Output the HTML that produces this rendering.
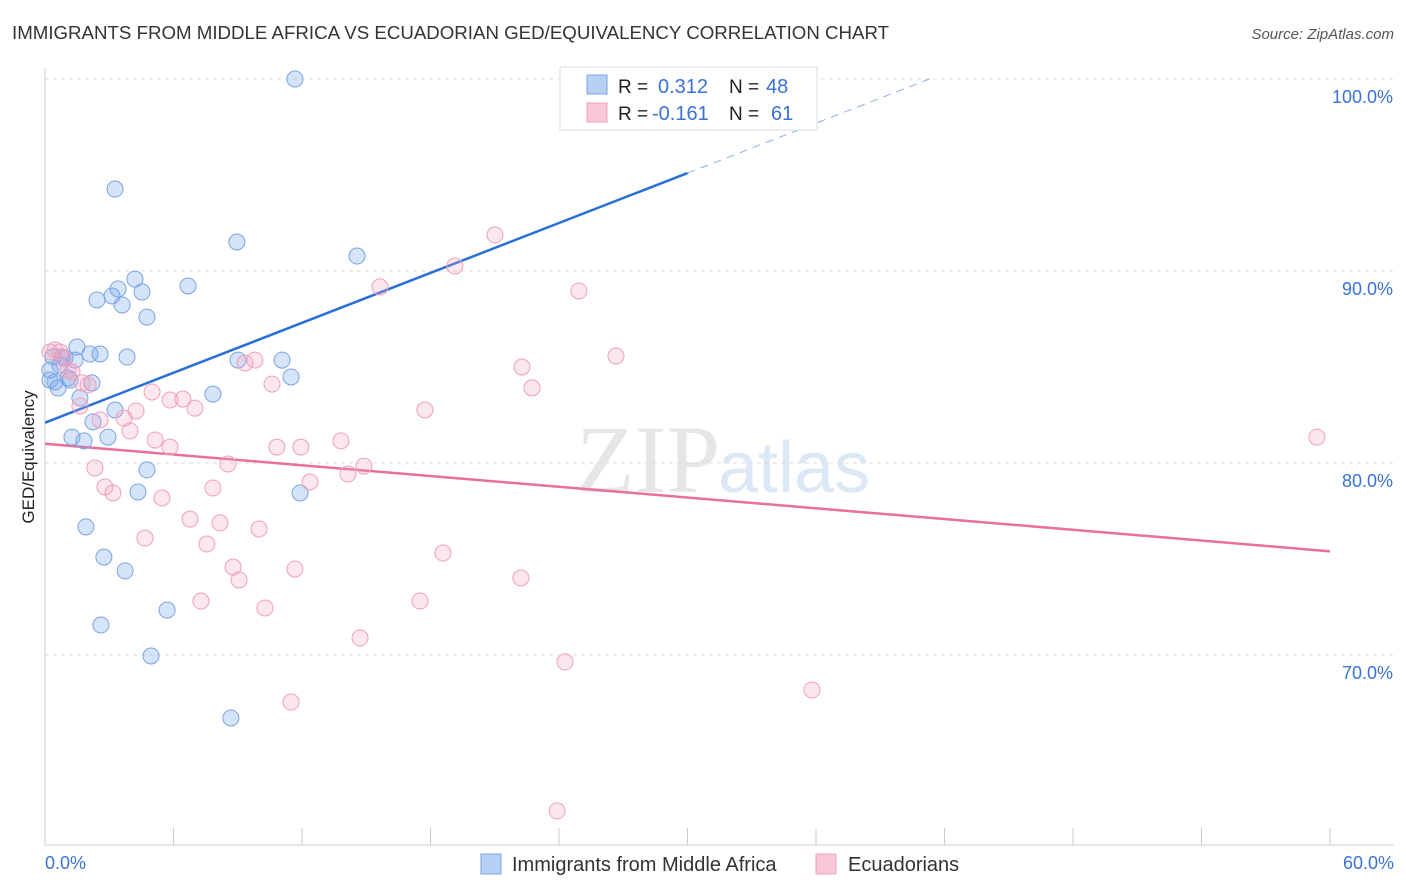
<!DOCTYPE html>
<html><head><meta charset="utf-8">
<style>
body{margin:0;background:#fff;font-family:"Liberation Sans",sans-serif;}
svg{display:block}
</style></head>
<body>
<svg id="chart" width="1406" height="892" xmlns="http://www.w3.org/2000/svg">
<text x="12" y="39" font-size="18.7" fill="#333">IMMIGRANTS FROM MIDDLE AFRICA VS ECUADORIAN GED/EQUIVALENCY CORRELATION CHART</text>
<text x="1394" y="39" font-size="15" fill="#555" font-style="italic" text-anchor="end">Source: ZipAtlas.com</text>
<text x="720" y="492" font-size="96" fill="#e6e6e6" text-anchor="end" font-family="Liberation Serif">ZIP</text>
<text x="718" y="492" font-size="72" fill="#dce8f5">atlas</text>
<text transform="translate(34,457) rotate(-90)" font-size="17" fill="#222" text-anchor="middle">GED/Equivalency</text>
<g id="grid"></g><g id="axes"></g><g id="lines"></g><g id="pts"></g>
<g>
<rect x="560" y="67" width="257" height="63" fill="#fff" stroke="#ddd"/>
<rect x="587" y="75" width="20" height="19" fill="#b7d0f4" stroke="#7aa3e5"/>
<rect x="587" y="103" width="20" height="19" fill="#f9c8d6" stroke="#f0a0b8"/>
<text x="618" y="93" font-size="19" fill="#222">R = </text><text x="658" y="93" font-size="20" fill="#3a72d8">0.312</text>
<text x="729" y="93" font-size="19" fill="#222">N = </text><text x="766" y="93" font-size="20" fill="#3a72d8">48</text>
<text x="618" y="120" font-size="19" fill="#222">R = </text><text x="652" y="120" font-size="20" fill="#3a72d8">-0.161</text>
<text x="729" y="120" font-size="19" fill="#222">N = </text><text x="771" y="120" font-size="20" fill="#3a72d8">61</text>
</g>
<g>
<rect x="481" y="854" width="20" height="20" fill="#b7d0f4" stroke="#7aa3e5"/>
<text x="512" y="871" font-size="20" fill="#333">Immigrants from Middle Africa</text>
<rect x="816" y="854" width="20" height="20" fill="#f9c8d6" stroke="#f0a0b8"/>
<text x="848" y="871" font-size="20" fill="#333">Ecuadorians</text>
</g>
</svg>
<script>
const xTicks=[0,6,12,18,24,30,36,42,48,54,60];
const yTicks=[70,80,90,100];
const blueX=[11.67,3.27,8.96,14.57,4.20,6.68,3.41,4.53,3.13,2.43,3.60,4.76,1.49,2.57,3.83,0.37,0.79,2.10,1.40,9.01,11.07,0.23,1.07,2.19,0.61,11.49,7.84,1.63,3.27,2.24,1.26,1.82,2.94,4.76,4.34,11.91,1.91,2.75,3.74,5.70,2.61,4.95,8.68,0.70,0.47,0.93,0.23,1.17];
const blueY=[100,94.27,91.51,90.78,89.58,89.22,89.06,88.91,88.70,88.49,88.23,87.60,86.04,85.68,85.52,85.52,85.52,85.68,85.36,85.36,85.36,84.84,84.43,84.17,83.91,84.48,83.59,83.39,82.76,82.14,81.35,81.15,81.35,79.64,78.49,78.44,76.67,75.10,74.38,72.34,71.56,69.95,66.72,85.10,84.22,85.47,84.32,84.32];
const pinkX=[21.01,19.14,15.64,24.93,26.66,22.27,9.34,9.80,10.60,22.74,5.0,5.84,6.44,7.0,4.25,3.69,3.97,5.14,5.84,10.83,11.95,13.82,2.33,8.54,14.89,14.15,12.37,2.80,7.84,3.17,5.46,6.77,8.17,9.99,4.67,7.56,18.58,8.78,11.67,9.06,22.22,7.28,10.27,17.51,14.71,24.28,11.49,35.81,23.91,59.39,0.47,0.84,1.07,1.73,1.63,2.57,2.01,1.26,17.74,0.70,0.23];
const pinkY=[91.88,90.26,89.17,88.96,85.57,85.0,85.21,85.36,84.11,83.91,83.70,83.28,83.33,82.86,82.71,82.34,81.67,81.20,80.83,80.83,80.83,81.15,79.74,79.95,79.84,79.43,79.01,78.75,78.70,78.44,78.18,77.08,76.88,76.56,76.09,75.78,75.31,74.58,74.48,73.91,74.01,72.81,72.45,72.81,70.89,69.64,67.55,68.18,61.88,81.35,85.89,85.47,84.84,84.17,82.97,82.24,84.06,84.74,82.76,85.78,85.78];
const blueTrend=[82.1,95.1,100];const blueTrendX=[0,30,41.3];
const pinkTrend=[81.0,75.4];const pinkTrendX=[0,60];
const NS="http://www.w3.org/2000/svg";
const sx=v=>45+v/60*1285;
const sy=v=>79+(100-v)*19.2;
function mk(tag,attrs,parent){const e=document.createElementNS(NS,tag);for(const k in attrs)e.setAttribute(k,attrs[k]);document.getElementById(parent).appendChild(e);return e;}
yTicks.forEach(t=>{
 const l=mk('line',{x1:45,x2:1394,y1:sy(t),y2:sy(t),stroke:'#ddd','stroke-dasharray':'4,4'},'grid');
 
 
 const tx=mk('text',{x:1393,y:sy(t)+24,'font-size':18,fill:'#3a72d8','text-anchor':'end'},'grid');
 tx.textContent=t.toFixed(1)+'%';
 
 
});
const ax=mk('line',{x1:45,x2:45,y1:68,y2:845,stroke:'#ccc'},'axes');


const bx=mk('line',{x1:45,x2:1394,y1:845,y2:845,stroke:'#ccc'},'axes');


xTicks.forEach(t=>{
 const l=mk('line',{x1:sx(t),x2:sx(t),y1:828,y2:845,stroke:'#ccc'},'axes');
 
 
});
[[0,'start',45],[60,'end',1394]].forEach(([t,a,x])=>{
 const tx=mk('text',{x:x,y:869,'font-size':18,fill:'#3a72d8','text-anchor':a},'axes');
 tx.textContent=t.toFixed(1)+'%';
 
 
});
function dots(X,Y,fill,stroke,name){
 X.forEach((x,i)=>{
  const c=mk('circle',{cx:sx(x),cy:sy(Y[i]),r:8,fill:fill,stroke:stroke,'stroke-width':1},'pts');
  
  
 });
}
dots(blueX,blueY,'rgba(120,165,235,0.3)','#7aa3e5','point-middle-africa');
dots(pinkX,pinkY,'rgba(245,160,190,0.25)','#f0a0b8','point-ecuadorian');
const b1=mk('line',{x1:sx(blueTrendX[0]),y1:sy(blueTrend[0]),x2:sx(blueTrendX[1]),y2:sy(blueTrend[1]),stroke:'#2a6fd8','stroke-width':2.5},'lines');


const b2=mk('line',{x1:sx(blueTrendX[1]),y1:sy(blueTrend[1]),x2:sx(blueTrendX[2]),y2:sy(blueTrend[2]),stroke:'#8ab0e8','stroke-width':1,'stroke-dasharray':'8,6'},'lines');


const p1=mk('line',{x1:sx(pinkTrendX[0]),y1:sy(pinkTrend[0]),x2:sx(pinkTrendX[1]),y2:sy(pinkTrend[1]),stroke:'#e8709a','stroke-width':2.5},'lines');


</script>
</body></html>
